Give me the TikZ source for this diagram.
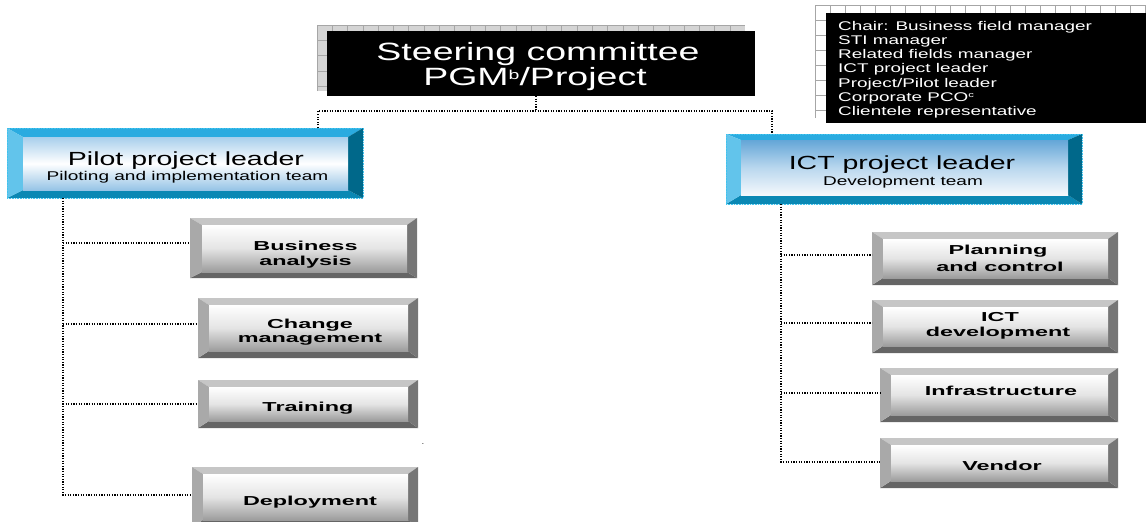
\documentclass[tikz,border=0pt]{standalone}
\usepackage{fontspec}
\setmainfont{Liberation Sans}
\newfontfamily\wide{Liberation Sans}[FakeStretch=1.5]
\newfontfamily\wider{Liberation Sans}[FakeStretch=1.8]
\usetikzlibrary{calc}

\definecolor{bvBlueTop}{HTML}{2AABE0}
\definecolor{bvBlueLeft}{HTML}{62C4EB}
\definecolor{bvBlueRight}{HTML}{00688A}
\definecolor{bvBlueBot}{HTML}{0A88B4}
\definecolor{faceBlueA}{HTML}{64A6D7}
\definecolor{faceBlueB}{HTML}{B9D7EE}
\definecolor{faceBlueC}{HTML}{F4F8FC}
\definecolor{faceBlueD}{HTML}{A8CFEC}
\definecolor{faceBlueE}{HTML}{FFFFFF}
\definecolor{faceBlueF}{HTML}{96C4E6}
\definecolor{bvGreyTop}{HTML}{C6C6C6}
\definecolor{bvGreyLeft}{HTML}{A9A9A9}
\definecolor{bvGreyRight}{HTML}{767676}
\definecolor{bvGreyBot}{HTML}{656565}
\definecolor{faceGreyB}{HTML}{E4E4E4}
\definecolor{faceGreyC}{HTML}{9C9C9C}
\definecolor{gridFill}{HTML}{D4D4D4}
\definecolor{gridLine}{HTML}{A6A6A6}
\definecolor{edgeCyan}{HTML}{3FC3EE}

% small raised index, as in PGM^b
\newcommand{\supsmall}[3]{\raisebox{#1}{\fontsize{#2}{#2}\selectfont #3}}

\tikzset{
  bv l/.store in=\bvL, bv r/.store in=\bvR, bv t/.store in=\bvT, bv b/.store in=\bvB,
  bv top/.store in=\bvTop, bv bot/.store in=\bvBot,
  bv left/.store in=\bvLeft, bv right/.store in=\bvRight,
  face a/.store in=\faceA, face b/.store in=\faceB, face c/.store in=\faceC,
  bevelbox/.style={
    rectangle, inner sep=0pt, outer sep=0pt,
    path picture={
      \coordinate (bvSW) at (path picture bounding box.south west);
      \coordinate (bvNE) at (path picture bounding box.north east);
      \coordinate (bvNW) at (path picture bounding box.north west);
      \coordinate (bvSE) at (path picture bounding box.south east);
      \coordinate (bviSW) at ([shift={(\bvL pt,\bvB pt)}]bvSW);
      \coordinate (bviSE) at ([shift={(-\bvR pt,\bvB pt)}]bvSE);
      \coordinate (bviNW) at ([shift={(\bvL pt,-\bvT pt)}]bvNW);
      \coordinate (bviNE) at ([shift={(-\bvR pt,-\bvT pt)}]bvNE);
      \fill[\bvTop] (bvNW) -- (bvNE) -- (bviNE) -- (bviNW) -- cycle;
      \fill[\bvBot] (bvSW) -- (bvSE) -- (bviSE) -- (bviSW) -- cycle;
      \fill[\bvLeft] (bvNW) -- (bviNW) -- (bviSW) -- (bvSW) -- cycle;
      \fill[\bvRight] (bvNE) -- (bviNE) -- (bviSE) -- (bvSE) -- cycle;
      \shade[top color=\faceA, bottom color=\faceC, middle color=\faceB]
        (bviSW) rectangle (bviNE);
    }
  },
  leadbox/.style={bevelbox, bv top=bvBlueTop, bv bot=bvBlueBot,
    bv left=bvBlueLeft, bv right=bvBlueRight,
    face a=faceBlueA, face b=faceBlueB, face c=faceBlueC,
    postaction={draw=edgeCyan, line width=0.8pt, dash pattern=on 0.8pt off 0.8pt}},
  unitbox/.style={bevelbox, bv l=11, bv r=10, bv t=7, bv b=7,
    bv top=bvGreyTop, bv bot=bvGreyBot, bv left=bvGreyLeft, bv right=bvGreyRight,
    face a=white, face b=faceGreyB, face c=faceGreyC},
  blackbox/.style={rectangle, fill=black, inner sep=0pt, outer sep=0pt},
  conn/.style={line width=1.1pt, dash pattern=on 1.1pt off 1.5pt},
  titletxt/.style={font=\wide\fontsize{25}{24.5}\selectfont, text=white, anchor=base, inner sep=0pt},
  memtxt/.style={font=\wide\fontsize{12.6}{14.1}\selectfont, text=white, align=left,
    anchor=north west, inner sep=0pt},
  leadtxt/.style={font=\wide\fontsize{19}{19}\selectfont, anchor=base, inner sep=0pt},
  subtxt/.style={font=\wide\fontsize{12.7}{12.7}\selectfont, anchor=base, inner sep=0pt},
  unittxt/.style={font=\wider\bfseries\fontsize{13}{13}\selectfont, anchor=base, inner sep=0pt},
}

\begin{document}
\begin{tikzpicture}[x=1pt, y=-1pt]
\useasboundingbox (0,0) rectangle (1146,522);
\clip (0,0) rectangle (1146,522);

% grid panels behind the two black boxes
\begin{scope}[shift={(317,25)}]
  \fill[gridFill] (0,0) rectangle (428,66);
  \draw[gridLine, line width=0.7pt, step=15.3pt] (0,0) grid (428,66);
\end{scope}
\begin{scope}[shift={(815,5)}]
  \fill[white] (0,0) rectangle (331,113);
  \draw[gridLine, line width=0.7pt, step=15pt] (0,0) grid (331,113);
\end{scope}

% steering committee
\node[blackbox, minimum width=428pt, minimum height=65pt] (st) at (541,63.5) {};
\node[titletxt] (stA) at (538,60.5) {Steering committee};
\node[titletxt] (stB) at (535,85.5) {PGM\supsmall{6.5pt}{13}{b}/Project};

% committee members
\node[blackbox, minimum width=320pt, minimum height=110pt] (mem) at (986,68) {};
\node[memtxt] (memT) at (838,21.3) {Chair: Business field manager\\
  STI manager\\ Related fields manager\\ ICT project leader\\
  Project/Pilot leader\\ Corporate PCO\supsmall{3.5pt}{7.5}{c}\\ Clientele representative};

% project leaders
\node[leadbox, bv l=16, bv r=15, bv t=9, bv b=8,
  face a=faceBlueD, face b=faceBlueE, face c=faceBlueF,
  minimum width=356pt, minimum height=70pt] (pilot) at (185,163) {};
\node[leadtxt] (pilotA) at (186,165) {Pilot project leader};
\node[subtxt] (pilotB) at (187.5,180.7) {Piloting and implementation team};

\node[leadbox, bv l=15, bv r=14, bv t=6, bv b=9,
  minimum width=356pt, minimum height=70pt] (ict) at (904,169) {};
\node[leadtxt] (ictA) at (902,169.3) {ICT project leader};
\node[subtxt] (ictB) at (903,185) {Development team};

% pilot side units
\node[unitbox, bv l=12, bv r=10, bv t=7, bv b=6, minimum width=227pt, minimum height=60pt] (ba) at (303.5,248) {};
\node[unittxt] (baA) at (305.5,250.7) {Business};
\node[unittxt] (baB) at (305.5,265) {analysis};

\node[unitbox, minimum width=220pt, minimum height=60pt] (cm) at (308,328) {};
\node[unittxt] (cmA) at (310,328.5) {Change};
\node[unittxt] (cmB) at (310,342.5) {management};

\node[unitbox, minimum width=220pt, minimum height=48pt] (tr) at (308,404) {};
\node[unittxt] (trA) at (308,411.5) {Training};

\node[unitbox, minimum width=226pt, minimum height=60pt] (dep) at (305,497) {};
\node[unittxt] (depA) at (310,505) {Deployment};

\node[font=\fontsize{8}{8}\selectfont, inner sep=0pt] (dot) at (423,444) {.};

% ICT side units
\node[unitbox, minimum width=246pt, minimum height=53pt] (pc) at (995,258.5) {};
\node[unittxt] (pcA) at (998,254.7) {Planning};
\node[unittxt] (pcB) at (1000,271.5) {and control};

\node[unitbox, minimum width=246pt, minimum height=53pt] (id) at (995,326.5) {};
\node[unittxt] (idA) at (1000,321.7) {ICT};
\node[unittxt] (idB) at (998,336.7) {development};

\node[unitbox, minimum width=238pt, minimum height=54pt] (inf) at (999,395) {};
\node[unittxt] (infA) at (1001,395) {Infrastructure};

\node[unitbox, minimum width=238pt, minimum height=50pt] (ven) at (999,463) {};
\node[unittxt] (venA) at (1002,470) {Vendor};

% connectors
\coordinate (jn) at (536,111);
\coordinate (jl) at (318,111);
\coordinate (jr) at (772,111);
\draw[conn] (st.south -| jn) -- (jn);
\draw[conn] (pilot.north -| jl) -- (jl) -- (jr) -- (jr |- ict.north);

\coordinate (sl) at (63,495);
\draw[conn] (pilot.south -| sl) -- (sl) -- (dep.west |- sl);
\foreach \u/\dy in {ba/5, cm/4, tr/0}
  \draw[conn] ([yshift=\dy pt]\u.west -| sl) -- ([yshift=\dy pt]\u.west);

\coordinate (sr) at (781,462);
\draw[conn] (ict.south -| sr) -- (sr) -- (ven.west |- sr);
\foreach \u/\dy in {pc/3.5, id/3.5, inf/2}
  \draw[conn] ([yshift=\dy pt]\u.west -| sr) -- ([yshift=\dy pt]\u.west);
\end{tikzpicture}
\end{document}
